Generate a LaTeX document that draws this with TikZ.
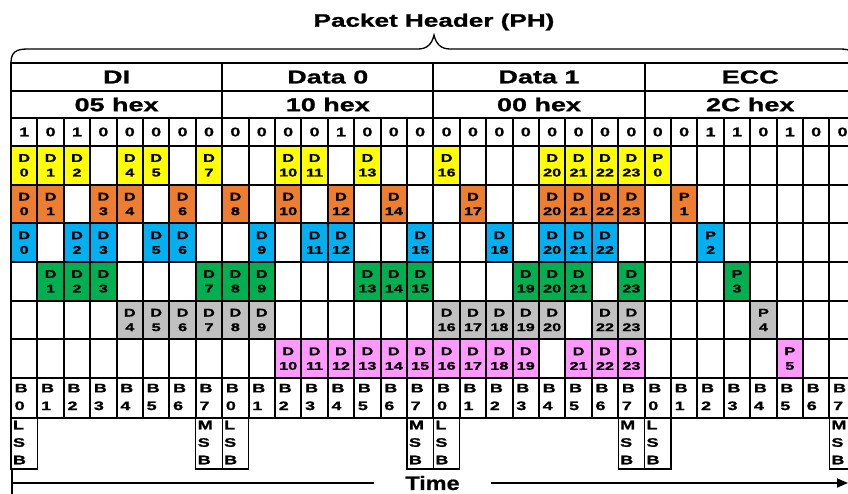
\documentclass[tikz,border=0pt]{standalone}
\usepackage{fontspec}
\usetikzlibrary{arrows.meta}

\newfontfamily\widefont{Liberation Sans Bold}[FakeStretch=1.45, FakeBold=1.2]
\newfontfamily\timefont{Liberation Sans Bold}[FakeStretch=1.2, FakeBold=0.8]

\definecolor{laneyellow}{HTML}{FFFF00}
\definecolor{laneorange}{HTML}{ED7D31}
\definecolor{laneblue}{HTML}{00B0F0}
\definecolor{lanegreen}{HTML}{00B050}
\definecolor{lanegray}{HTML}{C0C0C0}
\definecolor{lanepink}{HTML}{FF99FF}

\tikzset{
  grid line/.style={line width=2pt, line cap=rect},
  title/.style={font={\widefont\fontsize{18}{20}\selectfont}, inner sep=0pt},
  head/.style={font={\widefont\fontsize{18.6}{20}\selectfont}, inner sep=0pt},
  bit/.style={font={\widefont\fontsize{12.4}{13}\selectfont}, inner sep=0pt},
  cell/.style={font={\widefont\fontsize{11.2}{14.6}\selectfont}, inner sep=0pt, align=center},
  byte/.style={font={\widefont\fontsize{12.4}{17.7}\selectfont}, inner sep=0pt, align=left, anchor=west},
  sbbox/.style={line width=1.3pt},
  timelabel/.style={font={\timefont\fontsize{19.5}{20}\selectfont}, inner ysep=0pt, inner xsep=31pt},
  time line/.style={line width=1.8pt}
}

% one lane: #1 lane index, #2 colour, #3 data columns, #4 parity column, #5 parity number
\newcommand\lanerow[5]{%
  \foreach \c in {#3} {
    \fill[#2] ({11+26.4*\c},{146+38.667*#1}) rectangle ++(26.4,38.667);
    \node[cell] (L#1-\c) at ({24.2+26.4*\c},{165.33+38.667*#1}) {D\\\c};
  }
  \fill[#2] ({11+26.4*#4},{146+38.667*#1}) rectangle ++(26.4,38.667);
  \node[cell] (P#5) at ({24.2+26.4*#4},{165.33+38.667*#1}) {P\\#5};
}

\begin{document}
\begin{tikzpicture}[x=1pt,y=-1pt]
  \useasboundingbox (0,0) rectangle (848,493);

  % title and brace
  \node[title, anchor=base] (ph) at (434,26.7) {Packet Header (PH)};
  \draw[line width=1.3pt] (11,63) .. controls (11,52) and (16,49) .. (28,49) -- (418,49)
    .. controls (427,49) and (432,44) .. (434,35) .. controls (436,44) and (441,49) .. (450,49)
    -- (840,49) .. controls (851,49) and (856,52) .. (856,63);

  % coloured lanes
  \lanerow{0}{laneyellow}{0,1,2,4,5,7,10,11,13,16,20,21,22,23}{24}{0}
  \lanerow{1}{laneorange}{0,1,3,4,6,8,10,12,14,17,20,21,22,23}{25}{1}
  \lanerow{2}{laneblue}{0,2,3,5,6,9,11,12,15,18,20,21,22}{26}{2}
  \lanerow{3}{lanegreen}{1,2,3,7,8,9,13,14,15,19,20,21,23}{27}{3}
  \lanerow{4}{lanegray}{4,5,6,7,8,9,16,17,18,19,20,22,23}{28}{4}
  \lanerow{5}{lanepink}{10,11,12,13,14,15,16,17,18,19,21,22,23}{29}{5}

  % grid
  \foreach \r in {63,91,118,146,184.67,223.33,262,300.67,339.33,378,418}
    \draw[grid line] (11,\r) -- (855.8,\r);
  \foreach \c in {0,8,16,24,32}
    \draw[grid line] ({11+26.4*\c},63) -- ({11+26.4*\c},418);
  \foreach \c in {1,...,31}
    \draw[grid line] ({11+26.4*\c},118) -- ({11+26.4*\c},418);

  % field names and values
  \foreach \g/\name/\val in {0/DI/05, 1/Data 0/10, 2/Data 1/00, 3/ECC/2C} {
    \node[head] (name\g) at ({116.6+211.2*\g},77) {\name};
    \node[head] (hex\g) at ({116.6+211.2*\g},104.5) {\val\ hex};
  }

  % bits on the wire
  \foreach \b [count=\i from 0] in {1,0,1,0,0,0,0,0, 0,0,0,0,1,0,0,0,
                                    0,0,0,0,0,0,0,0, 0,0,1,1,0,1,0,0}
    \node[bit] (bit\i) at ({24.2+26.4*\i},132) {\b};

  % byte bit numbers
  \foreach \i in {0,...,31} {
    \pgfmathtruncatemacro\n{mod(\i,8)}
    \node[byte] (B\i) at ({14.5+26.4*\i},397) {B\\\n};
  }

  % LSB / MSB marks
  \foreach \c/\t in {0/L,7/M,8/L,15/M,16/L,23/M,24/L,31/M} {
    \draw[sbbox] ({11+26.4*\c},418) rectangle ++(26.4,51);
    \node[byte, font={\widefont\fontsize{12.4}{17.5}\selectfont}] (sb\c) at ({12.8+26.4*\c},442.5) {\t\\S\\B};
  }

  % time axis
  \node[timelabel] (time) at (432.5,483) {Time};
  \coordinate (tstart) at (11,483);
  \coordinate (tend) at (848,483);
  \draw[time line, {Bar[width=26pt]}-] (tstart) -- (time);
  \draw[time line, -{Triangle[length=11pt,width=9pt]}] (time) -- (tend);
\end{tikzpicture}
\end{document}
